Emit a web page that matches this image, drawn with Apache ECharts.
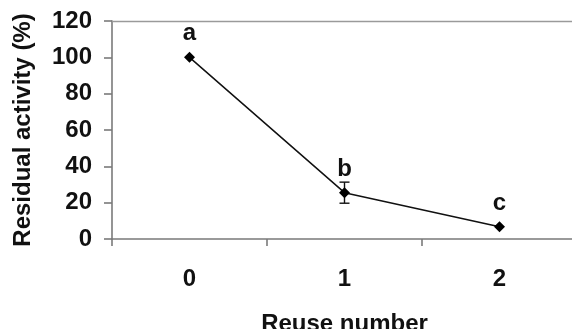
<!DOCTYPE html>
<html>
<head>
<meta charset="utf-8">
<script src="https://cdn.jsdelivr.net/npm/echarts@6/dist/echarts.min.js"></script>
<style>
  html, body { margin: 0; padding: 0; background: #fff; }
  #chart { width: 572px; height: 329px; }
</style>
</head>
<body>
<div id="chart"></div>
<script>
// Residual activity after each reuse cycle
const reuseNumbers = ['0', '1', '2'];
const residualActivity = [100, 25.5, 6.8];
const errorSD = [0, 5.8, 0];
const groupLetters = ['a', 'b', 'c'];
const yTicks = { min: 0, max: 120, interval: 20 };

const FONT = '"Liberation Sans", Arial, sans-serif';
const axisGray = '#7a7a7a';
const textStyle = { fontFamily: FONT, fontWeight: 'bold', fontSize: 24, color: '#111' };

const chart = echarts.init(document.getElementById('chart'), null, { renderer: 'canvas' });

const errData = residualActivity.map((v, i) => [i, v - errorSD[i], v + errorSD[i]]);

chart.setOption({
  animation: false,
  backgroundColor: '#fff',
  grid: { left: 112, top: 21, right: -5, bottom: 90, outerBoundsMode: 'none', containLabel: false },
  xAxis: [
    {
      type: 'category',
      data: reuseNumbers,
      boundaryGap: true,
      axisLine: { lineStyle: { color: axisGray, width: 1.6 } },
      axisTick: { show: true, length: 7, lineStyle: { color: axisGray, width: 1.6 } },
      axisLabel: Object.assign({ margin: 28 }, textStyle),
      name: 'Reuse number',
      nameLocation: 'middle',
      nameGap: 73,
      nameTextStyle: textStyle
    },
    {
      // plot frame top edge
      type: 'category',
      data: reuseNumbers,
      position: 'top',
      axisLine: { lineStyle: { color: '#9a9a9a', width: 1.4 } },
      axisTick: { show: false },
      axisLabel: { show: false }
    }
  ],
  yAxis: {
    type: 'value',
    min: yTicks.min,
    max: yTicks.max,
    interval: yTicks.interval,
    axisLine: { show: true, lineStyle: { color: axisGray, width: 1.6 } },
    axisTick: { show: true, length: 8, lineStyle: { color: axisGray, width: 1.6 } },
    splitLine: { show: false },
    axisLabel: Object.assign({ margin: 20 }, textStyle),
    name: 'Residual activity (%)',
    nameLocation: 'middle',
    nameGap: 77,
    nameTextStyle: textStyle
  },
  series: [
    {
      type: 'custom',
      xAxisIndex: 0,
      data: errData,
      z: 3,
      renderItem: function (params, api) {
        const x = api.coord([api.value(0), api.value(1)])[0];
        const lo = api.coord([api.value(0), api.value(1)])[1];
        const hi = api.coord([api.value(0), api.value(2)])[1];
        if (Math.abs(lo - hi) < 1) return null;
        const hw = 5;
        const st = { stroke: '#111', lineWidth: 1.4 };
        return {
          type: 'group',
          children: [
            { type: 'line', shape: { x1: x, y1: lo, x2: x, y2: hi }, style: st },
            { type: 'line', shape: { x1: x - hw, y1: lo, x2: x + hw, y2: lo }, style: st },
            { type: 'line', shape: { x1: x - hw, y1: hi, x2: x + hw, y2: hi }, style: st }
          ]
        };
      }
    },
    {
      type: 'line',
      xAxisIndex: 0,
      data: residualActivity,
      symbol: 'diamond',
      symbolSize: 11,
      lineStyle: { color: '#111', width: 1.5 },
      itemStyle: { color: '#000' },
      z: 4,
      label: {
        show: true,
        position: 'top',
        distance: 6,
        formatter: function (p) { return groupLetters[p.dataIndex]; },
        fontFamily: FONT,
        fontWeight: 'bold',
        fontSize: 24,
        color: '#111'
      }
    }
  ]
});
</script>
</body>
</html>
